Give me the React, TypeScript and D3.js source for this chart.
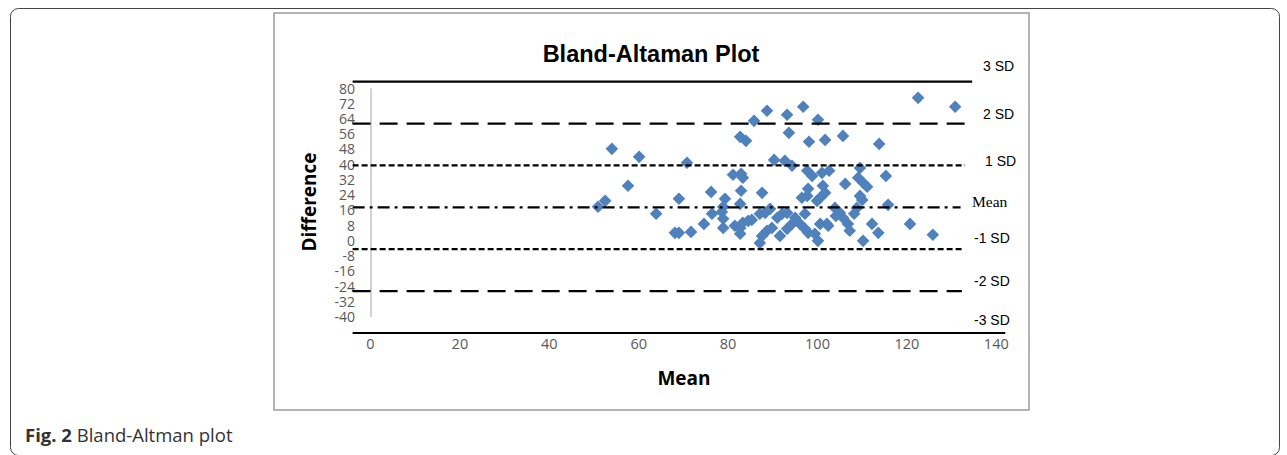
import React from "react";
import * as d3 from "d3";

// ---- data ----
const meanValues: number[] = [
  50.9, 52.5, 54.0, 60.1, 57.6, 63.9, 69.0, 68.1, 69.0, 70.8,
  71.7, 74.6, 76.2, 76.4, 78.6, 78.9, 78.9, 79.3, 78.9, 81.1,
  82.9, 83.3, 82.9, 82.7, 81.5, 82.7, 83.3, 84.5, 85.3, 82.7,
  82.7, 84.0, 85.8, 88.7, 93.2, 96.8, 100.1, 93.6, 98.1, 101.7,
  105.7, 113.8, 90.3, 92.7, 94.3, 97.7, 98.8, 101.0, 102.6, 109.5,
  115.3, 87.6, 97.9, 97.7, 101.2, 101.7, 100.6, 99.9, 106.2, 109.1,
  110.2, 111.1, 109.5, 110.0, 115.8, 87.1, 87.6, 88.7, 89.8, 87.1,
  88.3, 89.4, 91.0, 92.1, 93.2, 91.6, 93.2, 94.3, 95.0, 96.1,
  97.2, 97.9, 99.4, 100.1, 97.2, 100.6, 102.1, 103.9, 105.0, 105.7,
  106.8, 107.2, 108.8, 112.2, 113.6, 110.2, 120.7, 122.5, 130.8, 125.8,
  104.1, 102.4, 108.2, 96.5,
];
const diffValues: number[] = [
  17.9, 21.0, 48.3, 44.1, 28.9, 14.2, 22.1, 4.2, 4.2, 41.0,
  4.7, 8.9, 25.7, 14.2, 15.2, 11.6, 6.8, 22.1, 17.9, 34.7,
  35.2, 33.1, 26.3, 19.4, 7.9, 6.8, 9.5, 10.5, 11.0, 3.7,
  54.6, 52.5, 63.0, 68.3, 66.2, 70.4, 63.6, 56.7, 52.0, 53.0,
  55.1, 50.9, 42.5, 42.0, 39.4, 36.8, 34.1, 35.7, 36.8, 38.3,
  34.1, 25.2, 27.3, 23.6, 28.9, 25.2, 22.6, 21.0, 29.9, 33.1,
  30.5, 28.4, 23.6, 21.5, 18.9, -1.1, 2.6, 5.3, 6.8, 14.2,
  14.7, 16.8, 12.1, 14.2, 14.7, 2.6, 6.3, 8.9, 12.1, 8.9,
  6.3, 4.2, 3.7, 0.0, 14.2, 8.9, 8.9, 17.3, 14.7, 12.1,
  8.9, 5.3, 17.3, 8.9, 4.2, 0.0, 8.9, 75.1, 70.4, 3.2,
  13.1, 7.9, 14.2, 22.6,
];
const yTicks: number[] = [80, 72, 64, 56, 48, 40, 32, 24, 16, 8, 0, -8, -16, -24, -32, -40];
const xTicks: number[] = [0, 20, 40, 60, 80, 100, 120, 140];
const meanDiff = 17.6;
const sdDiff = 22.0;
const sdMultipliers: number[] = [3, 2, 1, 0, -1, -2, -3];
const sdLabels: string[] = ["3 SD", "2 SD", "1 SD", "Mean", "-1 SD", "-2 SD", "-3 SD"];
const titleText = "Bland-Altaman Plot";
const xTitle = "Mean";
const yTitle = "Difference";

// ---- styles ----
const lineStyles = [
  { dash: "none", x1: -4, x2: 134.6, lx: 983, ldy: -16 },
  { dash: "18 9", x1: -4, x2: 134.2, lx: 983, ldy: -9 },
  { dash: "6 3", x1: -4, x2: 133.0, lx: 985, ldy: -4 },
  { dash: "12 5 3 5", x1: -4, x2: 132.0, lx: 972, ldy: -6 },
  { dash: "6 3", x1: -4, x2: 132.3, lx: 974, ldy: -11 },
  { dash: "18 9", x1: -4, x2: 132.3, lx: 974, ldy: -10 },
  { dash: "none", x1: -4, x2: 142.0, lx: 974, ldy: -13 },
];

const W = 1287;
const H = 455;

function diamond(cx: number, cy: number, r: number): string {
  const p = d3.path();
  p.moveTo(cx, cy - r);
  p.lineTo(cx + r, cy);
  p.lineTo(cx, cy + r);
  p.lineTo(cx - r, cy);
  p.closePath();
  return p.toString();
}

export default function App() {
  const x = d3.scaleLinear().domain([0, 140]).range([370.5, 996.3]);
  const y = d3.scaleLinear().domain([-40, 80]).range([317, 88.5]);
  const points = meanValues.map((m, i) => ({ m, d: diffValues[i] }));

  return (
    <svg
      width={W}
      height={H}
      style={{ position: "absolute", left: 0, top: 0, display: "block" }}
    >
      <rect x={0} y={0} width={W} height={H} fill="#fff" />
      {/* outer figure frame */}
      <rect x={10.5} y={8.5} width={1269} height={447} rx={8} ry={8} fill="none" stroke="#444" strokeWidth={1} />
      {/* chart frame */}
      <rect x={274} y={13} width={755} height={397} fill="#fff" stroke="#9a9a9a" strokeWidth={1.5} />

      {/* title */}
      <text x={651} y={62} textAnchor="middle" fontFamily="'Liberation Sans', Arial, sans-serif" fontWeight="bold" fontSize={23.5} fill="#000">
        {titleText}
      </text>

      {/* y axis line */}
      <line x1={x(0) + 0.5} x2={x(0) + 0.5} y1={y(80)} y2={y(-40)} stroke="#a6a6a6" strokeWidth={1} />

      {/* y tick labels */}
      {yTicks.map((t) => (
        <text key={"y" + t} x={355} y={y(t)} dy="0.36em" textAnchor="end" fontFamily="'Open Sans', sans-serif" fontSize={14} fill="#595959">
          {t}
        </text>
      ))}

      {/* x tick labels */}
      {xTicks.map((t) => (
        <text key={"x" + t} x={x(t)} y={344} dy="0.36em" textAnchor="middle" fontFamily="'Open Sans', sans-serif" fontSize={14.5} fill="#595959">
          {t}
        </text>
      ))}

      {/* points */}
      {points.map((p, i) => (
        <path key={"p" + i} d={diamond(x(p.m), y(p.d), 6.3)} fill="#4F81BD" />
      ))}

      {/* SD lines */}
      {sdMultipliers.map((k, i) => {
        const v = meanDiff + k * sdDiff;
        const st = lineStyles[i];
        const yy = y(v);
        return (
          <g key={"sd" + i}>
            <line
              x1={x(st.x1)}
              x2={x(st.x2)}
              y1={yy}
              y2={yy}
              stroke="#000"
              strokeWidth={2.2}
              strokeDasharray={st.dash}
            />
            <text
              x={st.lx}
              y={yy + st.ldy}
              dy="0.35em"
              fontFamily={k === 0 ? "'Liberation Serif', 'Times New Roman', serif" : "'Liberation Sans', Arial, sans-serif"}
              fontSize={k === 0 ? 15.5 : 14}
              fill="#000"
            >
              {sdLabels[i]}
            </text>
          </g>
        );
      })}

      {/* axis titles */}
      <text x={684} y={378} dy="0.35em" textAnchor="middle" fontFamily="'Open Sans', sans-serif" fontWeight="bold" fontSize={19} fill="#000">
        {xTitle}
      </text>
      <text
        transform={`translate(309,202) rotate(-90)`}
        dy="0.35em"
        textAnchor="middle"
        fontFamily="'Open Sans', sans-serif"
        fontWeight="bold"
        fontSize={19}
        fill="#000"
      >
        {yTitle}
      </text>

      {/* caption */}
      <text x={25} y={442} fontFamily="'Open Sans', sans-serif" fontSize={18.5} fill="#333">
        <tspan fontWeight="bold">Fig. 2</tspan>
        <tspan> Bland-Altman plot</tspan>
      </text>
    </svg>
  );
}
